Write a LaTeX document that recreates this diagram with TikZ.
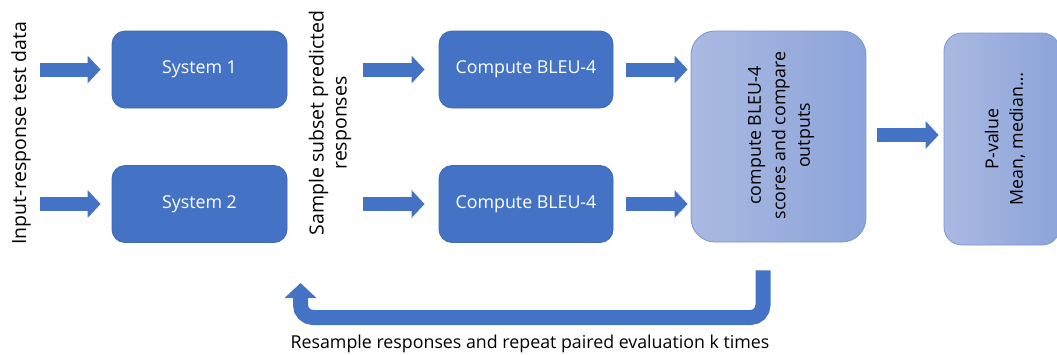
\documentclass[tikz,border=0pt]{standalone}
\usepackage{fontspec}
\setmainfont{Open Sans}
\usetikzlibrary{arrows.meta}
\definecolor{obl}{HTML}{4472C4}
\definecolor{oblline}{HTML}{3D68B5}
\definecolor{lgl}{HTML}{AAB9E1}
\definecolor{lgr}{HTML}{8CA4DA}
\definecolor{lgline}{HTML}{7896D3}
\tikzset{
  darkbox/.style={draw=oblline, line width=0.8pt, fill=obl, rounded corners=13pt,
    minimum width=175pt, minimum height=77pt, text=white, inner sep=0pt,
    font=\fontsize{17.8}{24}\selectfont},
  lightbox/.style={draw=lgline, line width=0.8pt, left color=lgl, right color=lgr,
    inner sep=0pt, text=black},
  barrow/.style={draw=obl, line width=14pt, -{Triangle[length=13pt,width=27pt]}},
  fbarrow/.style={draw=obl, line width=15pt, rounded corners=12.5pt,
    -{Triangle[length=15pt,width=31pt]}},
  sidetext/.style={rotate=90, align=center, inner sep=0pt,
    font=\fontsize{19.5}{23}\selectfont},
  boxtext/.style={rotate=90, align=center, inner sep=0pt,
    font=\fontsize{17.8}{24.5}\selectfont}
}
\begin{document}
\begin{tikzpicture}[x=1pt,y=-1pt]
\useasboundingbox (0,0) rectangle (1057,354);
\clip (0,0) rectangle (1057,354);
% boxes
\node[darkbox] (sys1) at (199.5,69.5) {System 1};
\node[darkbox] (sys2) at (199.5,204) {System 2};
\node[darkbox, minimum width=174pt] (cb1) at (526,69.5) {Compute BLEU-4};
\node[darkbox, minimum width=174pt] (cb2) at (526,204) {Compute BLEU-4};
\node[lightbox, rounded corners=24pt, minimum width=175pt, minimum height=211pt] (cmp) at (778.5,136.5) {};
\node[boxtext] (cmptext) at (781,135.5) {compute BLEU-4\\scores and compare\\outputs};
\node[lightbox, rounded corners=18pt, minimum width=116pt, minimum height=212pt] (pv) at (1002,139) {};
\node[boxtext] (pvtext) at (1005,139) {P-value\\Mean, median\ldots};
% texts
\node[sidetext] (intext) at (21,133) {Input-response test data};
\node[sidetext] (samp) at (330,123) {Sample subset predicted\\responses};
\node[inner sep=0pt, font=\fontsize{17.8}{20}\selectfont] (resamp) at (530,344) {Resample responses and repeat paired evaluation k times};
% arrows
\draw[barrow] ([xshift=-72pt]sys1.west) -- ([xshift=-11pt]sys1.west);
\draw[barrow] ([xshift=-72pt]sys2.west) -- ([xshift=-11pt]sys2.west);
\draw[barrow] ([xshift=-76pt]cb1.west) -- ([xshift=-14pt]cb1.west);
\draw[barrow] ([xshift=-76pt]cb2.west) -- ([xshift=-14pt]cb2.west);
\draw[barrow] ([xshift=13pt]cb1.east) -- ([xshift=-3pt]cb1.east -| cmp.west);
\draw[barrow] ([xshift=13pt]cb2.east) -- ([xshift=-3pt]cb2.east -| cmp.west);
\draw[barrow] ([xshift=11pt,yshift=1.5pt]cmp.east) -- ([xshift=-5pt,yshift=1.5pt]cmp.east -| pv.west);
% feedback loop
\coordinate (fbstart) at ([xshift=-15.5pt,yshift=-28pt]cmp.south);
\coordinate (fbend) at (300.5,283);
\draw[fbarrow] (fbstart) |- (fbend |- 0,317.5) -- (fbend);
\end{tikzpicture}
\end{document}
